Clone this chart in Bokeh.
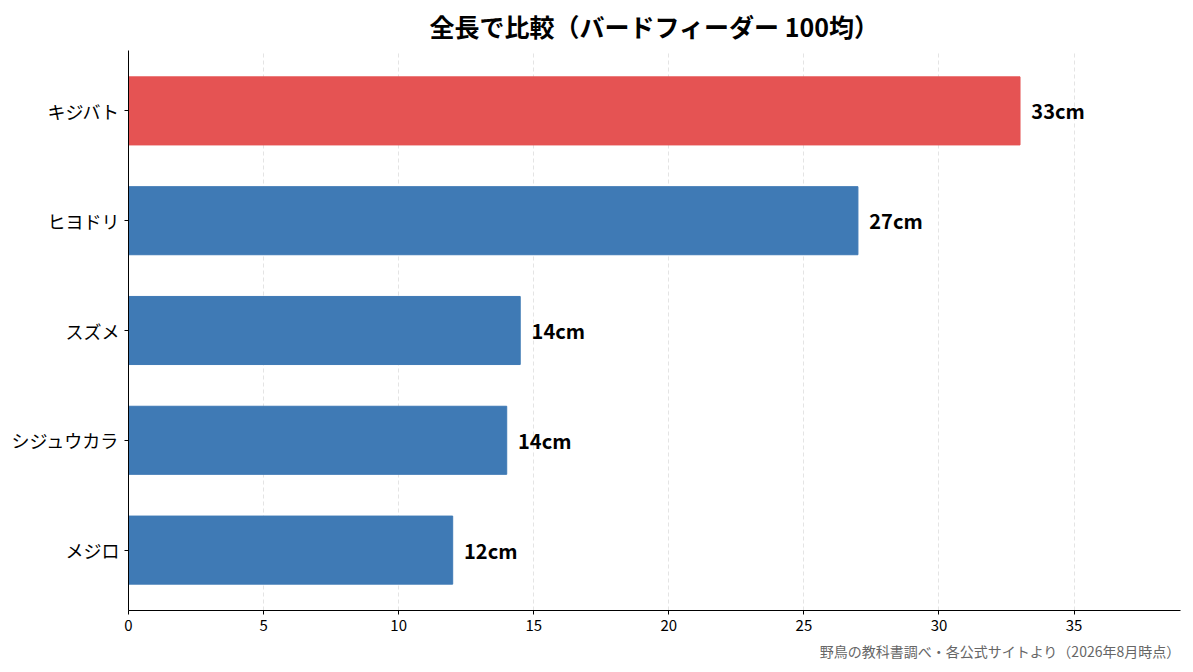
from bokeh.plotting import figure
from bokeh.models import ColumnDataSource, Range1d, FixedTicker, Title
from bokeh.core.properties import value
from bokeh.embed import file_html
from bokeh.resources import INLINE

# data (top to bottom)
birds = ["キジバト", "ヒヨドリ", "スズメ", "シジュウカラ", "メジロ"]
lengths = [33, 27, 14.5, 14, 12]
labels = ["33cm", "27cm", "14cm", "14cm", "12cm"]
colors = ["#E55353", "#3F7AB5", "#3F7AB5", "#3F7AB5", "#3F7AB5"]
x_ticks = [0, 5, 10, 15, 20, 25, 30, 35]

FONT = "Noto Sans CJK JP"

n = len(birds)
ypos = [n - 1 - i for i in range(n)]
src = ColumnDataSource(dict(y=ypos, v=lengths, lab=labels, c=colors,
                            lx=[v + 0.42 for v in lengths]))

p = figure(width=1190, height=668, output_backend="svg", toolbar_location=None,
           x_range=Range1d(0, 38.94), y_range=Range1d(-0.55, n - 1 + 0.55),
           min_border_left=128, min_border_right=10, min_border_top=50,
           min_border_bottom=58)

p.hbar(y="y", right="v", left=0, height=0.62, color="c", source=src)
p.text(x="lx", y="y", text="lab", source=src, text_font=value(FONT),
       text_font_size="20px", text_font_style="bold", text_color="black",
       text_baseline="middle", text_align="left")

p.title.text = "全長で比較（バードフィーダー 100均）"
p.title.align = "center"
p.title.vertical_align = "top"
p.title.text_font = FONT
p.title.text_font_size = "25px"
p.title.text_font_style = "bold"
p.title.text_color = "black"

p.add_layout(Title(text="野鳥の教科書調べ・各公式サイトより（2026年8月時点）",
                   align="right", text_font=FONT, text_font_size="14px",
                   text_font_style="normal", text_color="#666666"), "below")

p.outline_line_color = None
p.ygrid.grid_line_color = None
p.xgrid.grid_line_color = "#dddddd"
p.xgrid.grid_line_dash = "4 3"
p.xgrid.grid_line_alpha = 0.8

p.xaxis.ticker = FixedTicker(ticks=x_ticks)
p.yaxis.ticker = FixedTicker(ticks=ypos)
p.yaxis.major_label_overrides = {y: b for y, b in zip(ypos, birds)}
for ax in (p.xaxis, p.yaxis):
    ax.axis_line_color = "black"
    ax.major_tick_line_color = "black"
    ax.minor_tick_line_color = None
    ax.major_tick_out = 4
    ax.major_tick_in = 0
    ax.major_label_text_font = FONT
    ax.major_label_text_color = "black"
    ax.major_label_standoff = 5
p.xaxis.major_label_text_font_size = "15px"
p.yaxis.major_label_text_font_size = "18px"

open("out.html", "w").write(file_html(p, INLINE))
